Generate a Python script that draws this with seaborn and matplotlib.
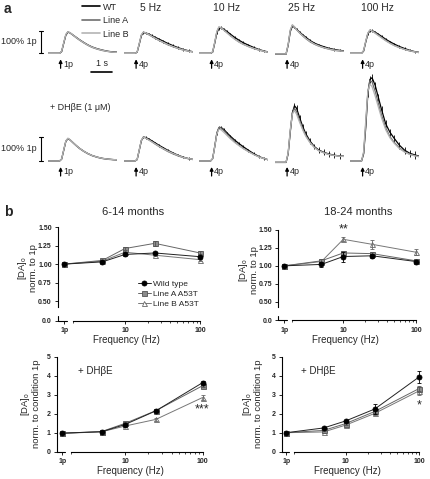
"""Dopamine release traces (a) and frequency responses (b)."""

import matplotlib
matplotlib.use("Agg")
import matplotlib.pyplot as plt
from matplotlib.lines import Line2D
import numpy as np
import seaborn as sns

sns.set_theme(style="ticks")
plt.rcParams["font.family"] = ["Liberation Sans", "DejaVu Sans"]
plt.rcParams["mathtext.fontset"] = "custom"
plt.rcParams["mathtext.rm"] = "Liberation Sans"
plt.rcParams["mathtext.it"] = "Liberation Sans:italic"

W, H = 430, 479

# ---- panel a: [DA]o transients, in units of the 1p peak ----
TRACE_T = [0.0, 0.55, 0.65, 0.75, 0.85, 0.95, 1.05, 1.2, 1.35, 1.5, 1.7, 1.9, 2.1, 2.35, 2.6, 2.85, 3.1, 3.3]
TRACE_TITLES = ["", "5 Hz", "10 Hz", "25 Hz", "100 Hz"]
PULSE_LABELS = ["1p", "4p", "4p", "4p", "4p"]

CTRL_WT = [
    [0, 0, 0.08, 0.45, 0.8, 0.93, 0.9, 0.8, 0.7, 0.6, 0.48, 0.37, 0.28, 0.2, 0.14, 0.09, 0.06, 0.05],
    [0, 0, 0.05, 0.4, 0.78, 0.91, 0.9, 0.85, 0.78, 0.71, 0.62, 0.53, 0.44, 0.34, 0.25, 0.17, 0.11, 0.07],
    [0, 0, 0.05, 0.45, 0.9, 1.1, 1.13, 1.05, 0.95, 0.84, 0.7, 0.58, 0.47, 0.36, 0.26, 0.17, 0.1, 0.06],
    [-0.04, -0.04, 0.35, 0.95, 1.2, 1.15, 1.06, 0.93, 0.81, 0.7, 0.56, 0.45, 0.37, 0.29, 0.22, 0.17, 0.13, 0.11],
    [0, 0, 0.1, 0.5, 0.85, 1.0, 1.0, 0.93, 0.84, 0.75, 0.62, 0.51, 0.41, 0.3, 0.21, 0.13, 0.07, 0.04],
]
CTRL_A = [
    [0, 0, 0.08, 0.45, 0.82, 0.95, 0.9, 0.79, 0.68, 0.58, 0.46, 0.35, 0.26, 0.18, 0.12, 0.08, 0.05, 0.04],
    [0, 0, 0.05, 0.42, 0.8, 0.93, 0.9, 0.82, 0.74, 0.66, 0.56, 0.47, 0.38, 0.29, 0.21, 0.14, 0.09, 0.06],
    [0, 0, 0.06, 0.48, 0.95, 1.15, 1.13, 1.02, 0.9, 0.78, 0.63, 0.5, 0.4, 0.3, 0.21, 0.14, 0.08, 0.05],
    [-0.03, -0.03, 0.38, 1.0, 1.24, 1.16, 1.04, 0.89, 0.76, 0.64, 0.5, 0.4, 0.32, 0.24, 0.18, 0.13, 0.1, 0.09],
    [0, 0, 0.12, 0.52, 0.88, 1.02, 0.99, 0.9, 0.8, 0.7, 0.57, 0.45, 0.35, 0.25, 0.17, 0.1, 0.06, 0.03],
]
CTRL_B = [
    [0, 0, 0.1, 0.48, 0.84, 0.95, 0.91, 0.8, 0.69, 0.59, 0.47, 0.36, 0.27, 0.19, 0.13, 0.08, 0.05, 0.04],
    [0, 0, 0.06, 0.44, 0.82, 0.94, 0.91, 0.83, 0.75, 0.67, 0.57, 0.48, 0.39, 0.3, 0.22, 0.15, 0.1, 0.06],
    [0, 0, 0.07, 0.5, 0.97, 1.17, 1.12, 1.0, 0.88, 0.76, 0.62, 0.5, 0.4, 0.3, 0.22, 0.15, 0.09, 0.05],
    [-0.03, -0.03, 0.4, 1.03, 1.26, 1.17, 1.04, 0.9, 0.77, 0.65, 0.52, 0.41, 0.33, 0.25, 0.19, 0.14, 0.11, 0.09],
    [0, 0, 0.13, 0.55, 0.9, 1.03, 0.98, 0.88, 0.78, 0.68, 0.55, 0.44, 0.34, 0.25, 0.17, 0.11, 0.06, 0.03],
]
CTRL_WT_SEM = [0.0, 0.06, 0.06, 0.05, 0.05]

DHBE_WT = [
    [0, 0, 0.08, 0.45, 0.82, 0.93, 0.88, 0.76, 0.64, 0.53, 0.41, 0.31, 0.23, 0.16, 0.11, 0.08, 0.06, 0.05],
    [0, 0, 0.06, 0.45, 0.85, 1.0, 0.98, 0.92, 0.84, 0.76, 0.65, 0.55, 0.45, 0.34, 0.24, 0.16, 0.1, 0.07],
    [0, 0, 0.1, 0.6, 1.15, 1.38, 1.4, 1.3, 1.16, 1.03, 0.87, 0.73, 0.6, 0.45, 0.31, 0.19, 0.1, 0.05],
    [-0.06, -0.06, 0.3, 1.2, 2.0, 2.3, 2.2, 1.8, 1.42, 1.12, 0.82, 0.6, 0.46, 0.36, 0.29, 0.24, 0.21, 0.2],
    [0, 0, 0.3, 1.4, 2.8, 3.4, 3.47, 3.15, 2.65, 2.15, 1.55, 1.2, 0.95, 0.66, 0.45, 0.32, 0.25, 0.2],
]
DHBE_A = [
    [0, 0, 0.08, 0.46, 0.83, 0.94, 0.88, 0.75, 0.63, 0.52, 0.4, 0.3, 0.22, 0.15, 0.1, 0.07, 0.05, 0.04],
    [0, 0, 0.06, 0.45, 0.85, 0.99, 0.96, 0.88, 0.8, 0.71, 0.6, 0.5, 0.4, 0.3, 0.21, 0.14, 0.09, 0.06],
    [0, 0, 0.1, 0.62, 1.18, 1.4, 1.38, 1.25, 1.1, 0.96, 0.8, 0.66, 0.53, 0.4, 0.28, 0.17, 0.1, 0.05],
    [-0.05, -0.05, 0.32, 1.25, 2.0, 2.2, 2.05, 1.68, 1.33, 1.05, 0.77, 0.57, 0.44, 0.34, 0.27, 0.23, 0.2, 0.19],
    [0, 0, 0.35, 1.55, 2.9, 3.35, 3.3, 2.9, 2.4, 1.92, 1.38, 1.02, 0.78, 0.55, 0.39, 0.28, 0.22, 0.18],
]
DHBE_B = [
    [0, 0, 0.09, 0.47, 0.84, 0.95, 0.89, 0.76, 0.64, 0.53, 0.41, 0.31, 0.23, 0.16, 0.11, 0.08, 0.06, 0.05],
    [0, 0, 0.07, 0.47, 0.87, 1.0, 0.96, 0.88, 0.8, 0.72, 0.61, 0.51, 0.42, 0.32, 0.23, 0.15, 0.1, 0.07],
    [0, 0, 0.1, 0.6, 1.12, 1.33, 1.3, 1.18, 1.05, 0.92, 0.77, 0.64, 0.52, 0.39, 0.27, 0.17, 0.1, 0.05],
    [-0.05, -0.05, 0.35, 1.3, 1.95, 2.1, 1.95, 1.6, 1.28, 1.01, 0.75, 0.56, 0.43, 0.34, 0.27, 0.23, 0.2, 0.19],
    [0, 0, 0.4, 1.7, 2.9, 3.2, 3.1, 2.7, 2.25, 1.8, 1.3, 0.97, 0.74, 0.52, 0.37, 0.27, 0.21, 0.18],
]
DHBE_WT_SEM = [0.0, 0.05, 0.06, 0.12, 0.15]

# ---- panel b: peak [DA]o vs frequency ----
FREQ_LABELS = ["1p", "10", "100"]
FREQ_POS = [1.55, 5, 10, 25, 100]  # 1p is drawn left of the axis break

YOUNG_WT = [1.00, 1.03, 1.13, 1.15, 1.10]
YOUNG_WT_ERR = [0, 0.01, 0.015, 0.015, 0.015]
YOUNG_A = [1.00, 1.05, 1.21, 1.28, 1.15]
YOUNG_A_ERR = [0, 0.01, 0.02, 0.03, 0.02]
YOUNG_B = [1.00, 1.04, 1.16, 1.12, 1.06]
YOUNG_B_ERR = [0, 0.01, 0.02, 0.015, 0.015]

OLD_WT = [1.00, 1.02, 1.13, 1.14, 1.06]
OLD_WT_ERR = [0, 0.03, 0.07, 0.03, 0.02]
OLD_A = [1.00, 1.07, 1.18, 1.17, 1.07]
OLD_A_ERR = [0.02, 0.02, 0.03, 0.03, 0.02]
OLD_B = [1.00, 1.06, 1.37, 1.30, 1.19]
OLD_B_ERR = [0, 0.02, 0.03, 0.06, 0.04]

YOUNG_DH_WT = [0.98, 1.05, 1.43, 2.15, 3.63]
YOUNG_DH_WT_ERR = [0.05, 0.03, 0.05, 0.06, 0.08]
YOUNG_DH_A = [0.97, 1.06, 1.49, 2.16, 3.47]
YOUNG_DH_A_ERR = [0.05, 0.04, 0.05, 0.06, 0.08]
YOUNG_DH_B = [0.96, 1.05, 1.35, 1.70, 2.85]
YOUNG_DH_B_ERR = [0.05, 0.03, 0.05, 0.06, 0.15]

OLD_DH_WT = [1.00, 1.25, 1.62, 2.25, 3.93]
OLD_DH_WT_ERR = [0, 0.05, 0.05, 0.25, 0.32]
OLD_DH_A = [1.00, 1.12, 1.48, 2.12, 3.32]
OLD_DH_A_ERR = [0, 0.04, 0.05, 0.1, 0.15]
OLD_DH_B = [1.00, 1.04, 1.40, 2.02, 3.20]
OLD_DH_B_ERR = [0, 0.05, 0.05, 0.08, 0.2]

C_WT, C_A, C_B = "black", "#6e6e6e", "#b4b4b4"
STYLE_WT = dict(marker="o", markerfacecolor="black", markeredgecolor="black", color="#222222")
STYLE_A = dict(marker="s", markerfacecolor="#8c8c8c", markeredgecolor="#555555", color="#666666")
STYLE_B = dict(marker="^", markerfacecolor="white", markeredgecolor="#666666", color="#777777")

fig = plt.figure(figsize=(W / 100, H / 100), dpi=100)


def px_axes(left, top, width, height):
    return fig.add_axes([left / W, 1 - (top + height) / H, width / W, height / H])


def draw_trace_row(base_px, ppu, ymax, wt, line_a, line_b, sem):
    ymin = -0.15
    axes = []
    for i in range(5):
        ax = px_axes(48 + 75.5 * i, base_px - ymax * ppu, 69.3, (ymax - ymin) * ppu)
        ax.set_xlim(0, 3.3)
        ax.set_ylim(ymin, ymax)
        ax.axis("off")
        sns.lineplot(x=TRACE_T, y=wt[i], ax=ax, color=C_WT, lw=0.9, legend=False)
        if sem[i] > 0:
            ax.errorbar(TRACE_T[4:], wt[i][4:], yerr=sem[i], fmt="none", ecolor=C_WT, elinewidth=0.6)
        sns.lineplot(x=TRACE_T, y=line_a[i], ax=ax, color=C_A, lw=0.9, legend=False)
        sns.lineplot(x=TRACE_T, y=line_b[i], ax=ax, color=C_B, lw=0.9, legend=False)
        ax.annotate("", xy=(0.6, -6 / ppu), xytext=(0.6, -15 / ppu), annotation_clip=False,
                    arrowprops=dict(arrowstyle="-|>", lw=0.9, color="black", mutation_scale=5,
                                    shrinkA=0, shrinkB=0))
        ax.text(0.6 + 2.5 / 21, -11 / ppu, PULSE_LABELS[i], fontsize=6.5, ha="left", va="center")
        axes.append(ax)
    # 100% of 1p scale bar
    ax0 = axes[0]
    ax0.plot([-0.33, -0.33], [0, 1], color="black", lw=0.8, clip_on=False)
    for yv in (0, 1):
        ax0.plot([-0.45, -0.22], [yv, yv], color="black", lw=0.8, clip_on=False)
    ax0.text(-0.55, 0.5, "100% 1p", fontsize=6.5, ha="right", va="center")
    return axes


top_axes = draw_trace_row(53.3, 22.7, 1.35, CTRL_WT, CTRL_A, CTRL_B, CTRL_WT_SEM)
bot_axes = draw_trace_row(161.0, 24.0, 3.7, DHBE_WT, DHBE_A, DHBE_B, DHBE_WT_SEM)

for ax, title in zip(top_axes, TRACE_TITLES):
    ax.text(1.3, (53.3 - 8) / 22.7, title, fontsize=7.5, ha="center", va="center")

# 1 s time scale bar
top_axes[0].plot([2.05, 3.05], [-0.81, -0.81], color="black", lw=1.2, clip_on=False)
top_axes[0].text(2.55, -0.43, "1 s", fontsize=6.5, ha="center", va="center")

fig.legend(
    handles=[Line2D([], [], color=c, lw=1.2) for c in (C_WT, C_A, C_B)],
    labels=["WT", "Line A", "Line B"],
    loc="upper left", bbox_to_anchor=(82 / W, 1 - 2.5 / H), frameon=False, fontsize=6.5,
    handlelength=2.0, handletextpad=0.3, labelspacing=0.5, borderpad=0, borderaxespad=0,
)
fig.text(50 / W, 1 - 107 / H, "+ DH\u03b2E (1 \u03bcM)", fontsize=6.5, ha="left", va="center")

fig.text(4 / W, 1 - 9 / H, "a", fontsize=10, fontweight="bold", ha="left", va="center")
fig.text(4 / W, 1 - 212 / H, "b", fontsize=10, fontweight="bold", ha="left", va="center")


def freq_axes(spine_px, x10_px, decade_px, top_px, bottom_px, ylim):
    xlow = 10 ** (1 - (x10_px - spine_px) / decade_px)
    width = decade_px * np.log10(110 / xlow)
    ax = px_axes(spine_px, top_px, width, bottom_px - top_px)
    ax.set_xscale("log")
    ax.set_xlim(xlow, 110)
    ax.set_ylim(*ylim)
    sns.despine(ax=ax)
    ax.spines["bottom"].set_bounds(2, 100)
    for side in ("left", "bottom"):
        ax.spines[side].set_linewidth(0.8)
        ax.spines[side].set_color("black")
    ax.plot([xlow, FREQ_POS[0] * 1.08], [ylim[0], ylim[0]], color="black", lw=0.8, clip_on=False)
    ax.set_xticks([FREQ_POS[0], 10, 100])
    ax.set_xticklabels(FREQ_LABELS, fontsize=5, fontweight="bold")
    ax.set_xticks([2] + list(range(20, 100, 10)), minor=True)
    ax.xaxis.set_minor_formatter(plt.NullFormatter())
    ax.tick_params(which="major", length=2.5, width=0.6, pad=2, color="black")
    ax.tick_params(which="minor", length=1.5, width=0.5, color="black")
    ax.set_xlabel("")
    ax.set_ylabel("")
    return ax


def plot_series(ax, y, err, style):
    sns.lineplot(x=FREQ_POS, y=y, ax=ax, lw=0.7, markersize=3.6, markeredgewidth=0.6,
                 clip_on=False, legend=False, **style)
    ax.errorbar(FREQ_POS, y, yerr=err, fmt="none", ecolor=style["markeredgecolor"],
                elinewidth=0.6, capsize=1.5, capthick=0.6, clip_on=False)


ZERO = 0.24
ratio_ticks = [ZERO, 0.5, 0.75, 1.0, 1.25, 1.5]
ratio_labels = ["0.0", "0.50", "0.75", "1.00", "1.25", "1.50"]

panels = [
    (freq_axes(58, 125, 75, 227, 320.5, (ZERO, 1.5)), (YOUNG_B, YOUNG_A, YOUNG_WT),
     (YOUNG_B_ERR, YOUNG_A_ERR, YOUNG_WT_ERR)),
    (freq_axes(278.3, 343.3, 72.7, 230, 320.3, (ZERO, 1.5)), (OLD_B, OLD_A, OLD_WT),
     (OLD_B_ERR, OLD_A_ERR, OLD_WT_ERR)),
    (freq_axes(56.7, 125, 77.5, 356.7, 451.7, (0, 5)), (YOUNG_DH_B, YOUNG_DH_A, YOUNG_DH_WT),
     (YOUNG_DH_B_ERR, YOUNG_DH_A_ERR, YOUNG_DH_WT_ERR)),
    (freq_axes(281.7, 345.7, 73.3, 356.7, 451.7, (0, 5)), (OLD_DH_B, OLD_DH_A, OLD_DH_WT),
     (OLD_DH_B_ERR, OLD_DH_A_ERR, OLD_DH_WT_ERR)),
]

for idx, (ax, ys, errs) in enumerate(panels):
    for y, err, style in zip(ys, errs, (STYLE_B, STYLE_A, STYLE_WT)):
        plot_series(ax, y, err, style)
    if idx < 2:
        ax.set_yticks(ratio_ticks)
        ax.set_yticklabels(ratio_labels, fontsize=5, fontweight="bold")
        ax.spines["left"].set_bounds(0.42, 1.5)
        xlow = ax.get_xlim()[0]
        ax.plot([xlow, xlow], [ZERO, ZERO + 0.06], color="black", lw=0.8, clip_on=False)
    else:
        ax.set_yticks(range(6))
        ax.set_yticklabels([str(v) for v in range(6)], fontsize=5, fontweight="bold")
        ax.text(0.14, 0.85, "+ DH\u03b2E", transform=ax.transAxes, fontsize=7, ha="left", va="center")

# titles, axis labels
fig.text(133 / W, 1 - 212 / H, "6-14 months", fontsize=8, ha="center", va="center")
fig.text(358 / W, 1 - 212 / H, "18-24 months", fontsize=8, ha="center", va="center")
for cx, cy in [(126, 340), (345, 340), (130, 471.5), (347, 470.5)]:
    fig.text(cx / W, 1 - cy / H, "Frequency (Hz)", fontsize=7, ha="center", va="center")
for cx, cy, txt in [(27, 268, "norm. to 1p"), (248, 270, "norm. to 1p"),
                    (30, 404, "norm. to condition 1p"), (252, 404, "norm. to condition 1p")]:
    fig.text(cx / W, 1 - cy / H, "[DA]$_\\mathrm{o}$\n" + txt, fontsize=6.8, rotation=90,
             ha="center", va="center", multialignment="center", linespacing=0.95)

# significance marks
panels[1][0].text(10, 1.43, "**", fontsize=9, ha="center", va="bottom")
panels[2][0].text(100, 2.2, "***", fontsize=9, ha="center", va="center")
panels[3][0].text(100, 2.42, "*", fontsize=9, ha="center", va="center")

# legend in the first frequency plot
leg_handles = [
    Line2D([], [], lw=0.7, markersize=3.6, markeredgewidth=0.6, **STYLE_WT),
    Line2D([], [], lw=0.7, markersize=3.6, markeredgewidth=0.6, **STYLE_A),
    Line2D([], [], lw=0.7, markersize=3.6, markeredgewidth=0.6, **STYLE_B),
]
fig.legend(handles=leg_handles, labels=["Wild type", "Line A A53T", "Line B A53T"],
           loc="upper left", bbox_to_anchor=(138 / W, 1 - 280 / H), frameon=False, fontsize=6,
           handlelength=1.5, handletextpad=0.25, labelspacing=0.25, borderpad=0, borderaxespad=0)

fig.savefig("out.png", dpi=100)
